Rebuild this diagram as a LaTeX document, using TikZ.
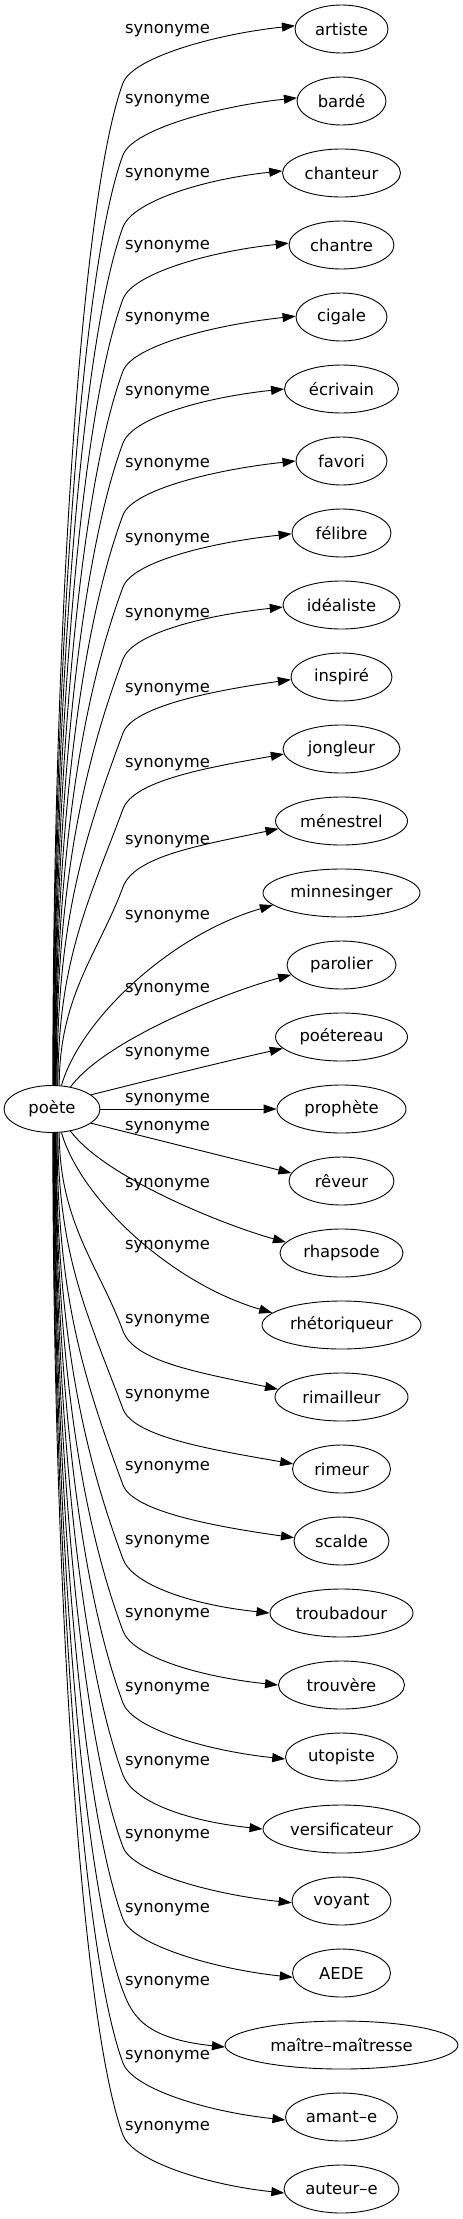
\documentclass[tikz,border=0pt]{standalone}
\usepackage{fontspec}
\setmainfont{DejaVu Sans}
\usetikzlibrary{arrows.meta,shapes.geometric,calc}
\begin{document}
\begin{tikzpicture}[x=1pt,y=-1pt,
  nd/.style={draw, ellipse, line width=0.9pt, inner sep=0pt, minimum height=48pt, font=\fontsize{16.4}{19}\selectfont},
  lbl/.style={inner sep=0pt, anchor=base west, font=\fontsize{16.4}{19}\selectfont},
  edge/.style={line width=0.9pt, -{Triangle[length=13pt,width=9pt]}}]
\useasboundingbox (0,0) rectangle (463,2219);
\node[nd, minimum width=96pt, minimum height=47pt] (poete) at (52,1109) {poète};
\foreach \kk/\nm/\ww in {0/artiste/93, 1/bardé/89, 2/chanteur/118, 3/chantre/105, 4/cigale/91, 5/écrivain/114, 6/favori/91, 7/félibre/99, 8/idéaliste/117, 9/inspiré/101, 10/jongleur/117, 11/ménestrel/132, 12/minnesinger/157, 13/parolier/109, 14/poétereau/132, 15/prophète/129, 16/rêveur/105, 17/rhapsode/123, 18/rhétoriqueur/159, 19/rimailleur/133, 20/rimeur/98, 21/scalde/95, 22/troubadour/143, 23/trouvère/126, 24/utopiste/112, 25/versificateur/157, 26/voyant/99, 27/AEDE/98, 28/maître–maîtresse/233, 29/amant–e/112, 30/auteur–e/115}
  \node[nd, minimum width=\ww pt] (t\kk) at (341.5,{29+72*\kk}) {\nm};
\foreach \kk/\yy in {0/29, 1/99, 2/173, 3/245, 4/317, 5/391, 6/463, 7/538, 8/613, 9/688, 10/763, 11/840, 12/915, 13/988, 14/1052, 15/1098, 16/1126, 17/1183, 18/1245, 19/1319, 20/1394, 21/1466, 22/1540, 23/1613, 24/1687, 25/1761, 26/1834, 27/1908, 28/1981, 29/2055, 30/2126}
  \node[lbl] (l\kk) at (125,{\yy+4.5}) {synonyme};
% far edges
\foreach \kk/\ta/\pa/\bb/\qo in {0/88/176/6/54, 1/87/176/6/54, 2/86/178/6/54, 3/85/178/6/54, 4/84/179/6/54, 5/83/180/6/54, 6/82/180/6/54, 7/81/181/6/54, 8/80/182/6/54, 9/78/183/8/56, 10/76/185/10/60, 11/73/187/12/66, 19/-73/173/12/66, 20/-76/174/10/60, 21/-78/176/8/56, 22/-80/180/6/54, 23/-81/180/6/54, 24/-82/182/6/54, 25/-83/180/6/54, 26/-84/182/6/54, 27/-85/185/6/54, 28/-86/181/6/54, 29/-87/183/6/54, 30/-88/184/6/54}{
  \pgfmathsetmacro\sg{\kk<15 ? 1 : -1}
  \pgfmathsetmacro\yk{29+72*\kk}
  \pgfmathsetmacro\qy{\yk+\qo*\sg}
  \pgfmathsetmacro\spn{\sg*(1109-\qy)-23}
  \pgfmathsetmacro\hh{0.45*\spn}
  \pgfmathsetmacro\dd{min(120,0.35*\spn)}
  \pgfmathsetmacro\ee{0.5*\qo}
  \draw[edge] (poete.\ta) .. controls ($(poete.\ta)+(0,{-\sg*\hh})$) and ({123-0.35*\dd},{\qy+0.94*\sg*\dd}) .. (123,\qy)
     .. controls ({123+0.35*\ee},{\qy-0.94*\ee*\sg}) and ($(t\kk.\pa)+({-80*cos(\bb)},{80*\sg*sin(\bb)})$) .. (t\kk.\pa);
}
% near edges
\draw[edge] (poete.68) .. controls (80,1020) and (170,935) .. (t12.190);
\draw[edge] (poete.50) .. controls (106,1039) and (230,991) .. (t13.191);
\draw[edge] (poete.20) .. controls (150,1080) and (218,1063) .. (t14.191);
\draw[edge] (poete.east) -- (t15.west);
\draw[edge] (poete.-20) .. controls (150,1138) and (218,1155) .. (t16.171);
\draw[edge] (poete.-50) .. controls (106,1179) and (230,1227) .. (t17.169);
\draw[edge] (poete.-68) .. controls (80,1198) and (170,1283) .. (t18.170);
\end{tikzpicture}
\end{document}
